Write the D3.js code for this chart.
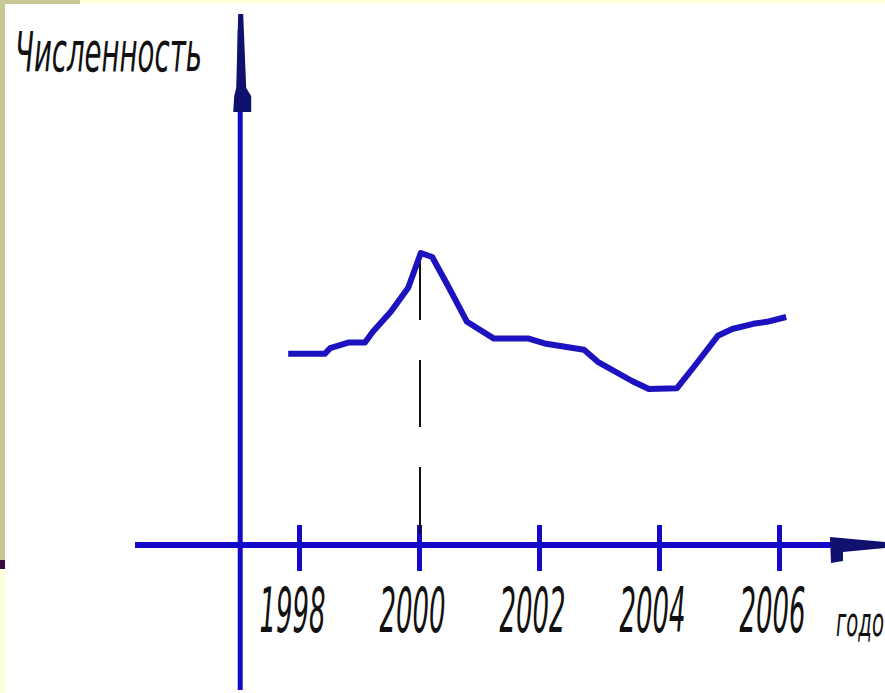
<!DOCTYPE html>
<html>
<head>
<meta charset="utf-8">
<script src="https://cdn.jsdelivr.net/npm/d3@7"></script>
<style>
  body { margin: 0; background: #fff; }
  svg { display: block; }
</style>
</head>
<body>
<div id="canvas"></div>
<script>
// data (years, "численность" in arbitrary units)
const years = [1997.82, 1998.43, 1998.52, 1998.82, 1999.1, 1999.23, 1999.53, 1999.82, 2000.03, 2000.22, 2000.5, 2000.8, 2001.25, 2001.83, 2002.12, 2002.75, 2002.98, 2003.55, 2003.83, 2004.3, 2004.58, 2004.98, 2005.22, 2005.57, 2005.8, 2006.12];
const values = [47.8, 47.8, 49.2, 50.6, 50.6, 53.3, 58.3, 64.3, 73, 72, 64.3, 55.8, 51.6, 51.6, 50.3, 48.8, 45.8, 41, 39, 39.2, 44.5, 52.3, 54, 55.3, 55.8, 57];
const tickYears = [1998, 2000, 2002, 2004, 2006];
const tickLabels = ["1998", "2000", "2002", "2004", "2006"];
const peakYear = 2000;
const peakValue = 73;
const yLabel = "Численность";
const xLabel = "годо";

const width = 885;
const height = 693;
const axisBlue = "#1409c8";
const lineBlue = "#1c12c0";
const arrowBlue = "#10106e";

const svg = d3.select("#canvas").append("svg")
    .attr("width", width)
    .attr("height", height);

// frame strips of the slide
svg.append("rect").attr("x", 0).attr("y", 0).attr("width", 5).attr("height", 560).attr("fill", "#c8c896");
svg.append("rect").attr("x", 0).attr("y", 560).attr("width", 5).attr("height", 9).attr("fill", "#3c0a42");
svg.append("rect").attr("x", 0).attr("y", 569).attr("width", 5).attr("height", height - 569).attr("fill", "#ffffdc");
svg.append("rect").attr("x", 0).attr("y", 0).attr("width", 80).attr("height", 4).attr("fill", "#c8c896");
svg.append("rect").attr("x", 80).attr("y", 0).attr("width", width - 80).attr("height", 4).attr("fill", "#ffffdc");

const x = d3.scaleLinear()
    .domain([1998, 2006])
    .range([299, 779]);

const y = d3.scaleLinear()
    .domain([0, 100])
    .range([545, 145]);

const x0 = x(1997.02);   // vertical axis position
const y0 = y(0);         // horizontal axis position

// squeeze a text horizontally to a given width
function fit(sel, tx, ty, w) {
    const len = sel.node().getComputedTextLength();
    sel.attr("transform", `translate(${tx},${ty}) scale(${w / len},1)`);
}

// horizontal axis
svg.append("line")
    .attr("x1", 135).attr("x2", 840)
    .attr("y1", y0).attr("y2", y0)
    .attr("stroke", axisBlue).attr("stroke-width", 6);

svg.append("path")
    .attr("d", `M830,${y0 - 8} L885,${y0 - 3} L885,${y0 + 3} L843,${y0 + 7} L843,${y0 + 16} L831,${y0 + 18} Z`)
    .attr("fill", arrowBlue);

// vertical axis
svg.append("line")
    .attr("x1", x0).attr("x2", x0)
    .attr("y1", 30).attr("y2", 690)
    .attr("stroke", axisBlue).attr("stroke-width", 5);

svg.append("path")
    .attr("d", `M${x0 - 2},14 L${x0 + 3},14 L${x0 + 6},88 L${x0 + 11},96 L${x0 + 11},112 L${x0 - 7},112 L${x0 - 6},96 L${x0 - 4},88 Z`)
    .attr("fill", arrowBlue);

// ticks through the horizontal axis
const xAxis = svg.append("g")
    .attr("transform", `translate(0,${y0})`)
    .call(d3.axisBottom(x).tickValues(tickYears).tickFormat((d, i) => tickLabels[i]).tickSize(0));

xAxis.select(".domain").remove();
xAxis.selectAll(".tick line")
    .attr("y1", -20).attr("y2", 26)
    .attr("stroke", axisBlue).attr("stroke-width", 5);
xAxis.selectAll(".tick text")
    .attr("dy", null)
    .attr("y", 0)
    .attr("x", 0)
    .attr("text-anchor", "middle")
    .attr("font-family", "DejaVu Sans")
    .attr("font-weight", 200)
    .attr("font-style", "italic")
    .attr("font-size", 62)
    .attr("fill", "#111")
    .each(function () { fit(d3.select(this), -7, 87, 66); });

// dashed guide at the peak
svg.append("line")
    .attr("x1", x(peakYear) + 1).attr("x2", x(peakYear) + 1)
    .attr("y1", y(peakValue)).attr("y2", y0)
    .attr("stroke", "#111").attr("stroke-width", 2)
    .attr("stroke-dasharray", "67,40");

// the curve
const line = d3.line()
    .x((d, i) => x(years[i]))
    .y(d => y(d));

svg.append("path")
    .datum(values)
    .attr("d", line)
    .attr("fill", "none")
    .attr("stroke", lineBlue)
    .attr("stroke-width", 6)
    .attr("stroke-linejoin", "round");

// axis labels
const yl = svg.append("text")
    .attr("font-family", "DejaVu Sans")
    .attr("font-weight", 200)
    .attr("font-style", "italic")
    .attr("font-size", 56)
    .attr("fill", "#111")
    .text(yLabel);
fit(yl, 15, 71, 187);

const xl = svg.append("text")
    .attr("font-family", "DejaVu Sans")
    .attr("font-weight", 200)
    .attr("font-style", "italic")
    .attr("font-size", 40)
    .attr("fill", "#111")
    .text(xLabel);
fit(xl, 836, 636, 48);
</script>
</body>
</html>
